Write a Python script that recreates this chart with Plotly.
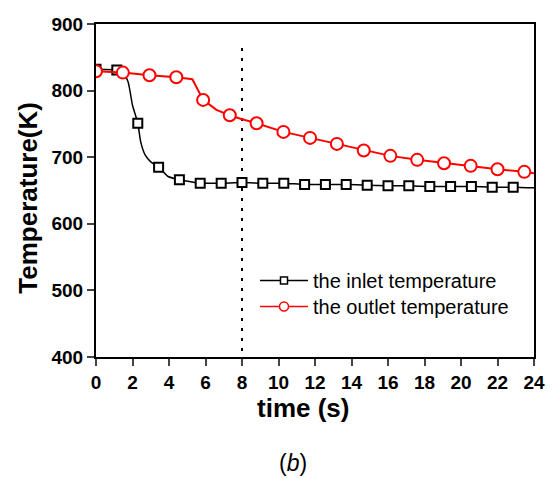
import plotly.graph_objects as go

# ---- data ----
inlet_marker_t = [0.0, 1.14, 2.29, 3.43, 4.57, 5.71, 6.86, 8.0, 9.14, 10.29, 11.43,
                  12.57, 13.71, 14.86, 16.0, 17.14, 18.29, 19.43, 20.57, 21.71, 22.86]
inlet_marker_T = [832, 831, 751, 685, 666, 661, 661, 662, 661, 661, 659,
                  659, 659, 658, 657, 657, 656, 656, 656, 655, 655]

inlet_line_t = [0.0, 1.14, 1.45, 1.76, 2.0, 2.29, 2.45, 2.7, 3.0, 3.43, 3.95, 4.57, 5.2,
                5.71, 6.86, 8.0, 9.14, 10.29, 11.43, 12.57, 13.71, 14.86, 16.0, 17.14,
                18.29, 19.43, 20.57, 21.71, 22.86, 24.0]
inlet_line_T = [832, 831, 829, 813, 778, 751, 723, 703, 693, 685, 671, 666, 663,
                661, 661, 662, 661, 661, 659, 659, 659, 658, 657, 657,
                656, 656, 656, 655, 655, 654]

outlet_marker_t = [0.0, 1.47, 2.93, 4.4, 5.87, 7.33, 8.8, 10.27, 11.73, 13.2, 14.67,
                   16.13, 17.6, 19.07, 20.53, 22.0, 23.47]
outlet_marker_T = [829, 827, 823, 820, 786, 763, 751, 738, 729, 720, 710,
                   702, 696, 691, 687, 682, 678]

outlet_line_t = [0.0, 1.47, 2.93, 4.4, 5.28, 5.87, 6.6, 7.33, 8.0, 8.8, 10.27, 11.73,
                 13.2, 14.67, 16.13, 17.6, 19.07, 20.53, 22.0, 23.47, 24.0]
outlet_line_T = [829, 827, 823, 820, 817, 786, 771, 763, 757, 751, 738, 729,
                 720, 710, 702, 696, 691, 687, 682, 678, 676]

marker_time = 8.0
marker_T_range = [864, 400]

x_ticks = [0, 2, 4, 6, 8, 10, 12, 14, 16, 18, 20, 22, 24]
y_ticks = [400, 500, 600, 700, 800, 900]

series_names = ["the inlet temperature", "the outlet temperature"]

FONT = "Arial, Liberation Sans, sans-serif"

fig = go.Figure()

# dotted vertical line
fig.add_trace(go.Scatter(x=[marker_time, marker_time], y=marker_T_range, mode="lines",
                         line=dict(color="black", width=2, dash="3px,7px"),
                         showlegend=False, hoverinfo="skip"))

# inlet
fig.add_trace(go.Scatter(x=inlet_line_t, y=inlet_line_T, mode="lines",
                         line=dict(color="black", width=1.5, shape="spline", smoothing=0.6),
                         showlegend=False))
fig.add_trace(go.Scatter(x=inlet_marker_t, y=inlet_marker_T, mode="markers",
                         marker=dict(symbol="square", size=9, color="white",
                                     line=dict(color="black", width=2)),
                         showlegend=False))
# outlet
fig.add_trace(go.Scatter(x=outlet_line_t, y=outlet_line_T, mode="lines",
                         line=dict(color="red", width=2),
                         showlegend=False))
fig.add_trace(go.Scatter(x=outlet_marker_t, y=outlet_marker_T, mode="markers",
                         marker=dict(symbol="circle", size=12, color="white",
                                     line=dict(color="red", width=2)),
                         showlegend=False))

# legend-only entries (one legend box per row for exact row spacing)
fig.add_trace(go.Scatter(x=[None], y=[None], mode="lines+markers", name=series_names[0],
                         legend="legend",
                         line=dict(color="black", width=1.5),
                         marker=dict(symbol="square", size=7, color="white",
                                     line=dict(color="black", width=1.5))))
fig.add_trace(go.Scatter(x=[None], y=[None], mode="lines+markers", name=series_names[1],
                         legend="legend2",
                         line=dict(color="red", width=1.5),
                         marker=dict(symbol="circle", size=9, color="white",
                                     line=dict(color="red", width=1.5))))

legend_style = dict(xanchor="left", yanchor="top",
                    font=dict(family=FONT, size=20, color="black"),
                    bgcolor="rgba(0,0,0,0)", borderwidth=0, itemwidth=48)

fig.update_layout(
    width=555, height=478,
    margin=dict(l=96, r=10, t=24, b=121),
    paper_bgcolor="white", plot_bgcolor="white",
    font=dict(family=FONT, color="black"),
    showlegend=True,
    legend=dict(x=0.363, y=0.288, **legend_style),
    legend2=dict(x=0.363, y=0.210, **legend_style),
    xaxis=dict(range=[0, 24], tickvals=x_ticks, ticks="outside", ticklen=7, tickwidth=2,
               showline=True, linewidth=2, linecolor="black", mirror=True,
               showgrid=False, zeroline=False,
               tickfont=dict(family=FONT, size=19, color="black", weight="bold")),
    yaxis=dict(range=[400, 900], tickvals=y_ticks, ticks="outside", ticklen=7, tickwidth=2,
               showline=True, linewidth=2, linecolor="black", mirror=True,
               showgrid=False, zeroline=False,
               tickfont=dict(family=FONT, size=19, color="black", weight="bold")),
    annotations=[
        dict(text="<b>time (s)</b>", x=308, y=408, xref="paper", yref="paper",
             xanchor="center", yanchor="middle",
             showarrow=False, font=dict(family=FONT, size=26, color="black")),
        dict(text="<b>Temperature(K)</b>", x=26, y=198, xref="paper", yref="paper",
             xanchor="center", yanchor="middle",
             showarrow=False, textangle=-90, font=dict(family=FONT, size=26, color="black")),
        dict(text="(<i>b</i>)", x=298, y=463, xref="paper", yref="paper",
             xanchor="center", yanchor="middle",
             showarrow=False, font=dict(family=FONT, size=23, color="black")),
    ],
)

# convert pixel positions of annotations to paper coordinates
L, R, T, B = 96, 545, 24, 357
for a in fig.layout.annotations:
    a.x = (a.x - L) / (R - L)
    a.y = (B - a.y) / (B - T)

fig.write_html("out.html")
